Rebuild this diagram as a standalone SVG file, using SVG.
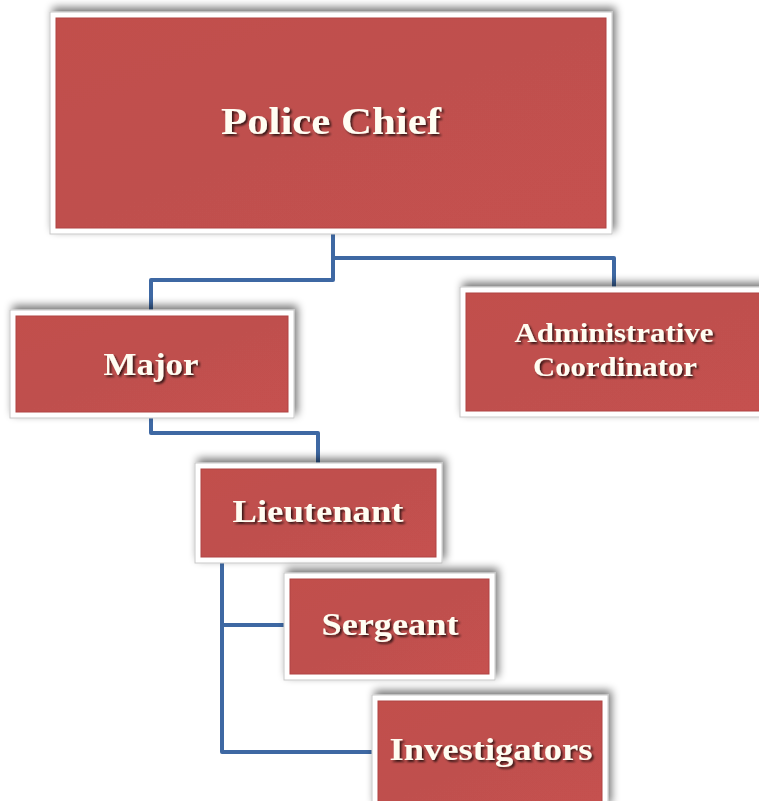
<svg xmlns="http://www.w3.org/2000/svg" width="759" height="801" viewBox="0 0 759 801">
  <defs>
    <filter id="shadow" x="-10%" y="-20%" width="120%" height="140%">
      <feGaussianBlur in="SourceAlpha" stdDeviation="4"/>
      <feOffset dx="3" dy="-4" result="b"/>
      <feComponentTransfer><feFuncA type="linear" slope="0.55"/></feComponentTransfer>
      <feMerge><feMergeNode/><feMergeNode in="SourceGraphic"/></feMerge>
    </filter>
    <filter id="txtShadow" x="-10%" y="-30%" width="120%" height="160%">
      <feGaussianBlur in="SourceAlpha" stdDeviation="1"/>
      <feOffset dx="1.5" dy="2" result="b"/>
      <feComponentTransfer><feFuncA type="linear" slope="0.7"/></feComponentTransfer>
      <feMerge><feMergeNode/><feMergeNode in="SourceGraphic"/></feMerge>
    </filter>
    <linearGradient id="redFill" x1="0" y1="0" x2="1" y2="1">
      <stop offset="0" stop-color="#C24F4C"/>
      <stop offset="0.5" stop-color="#BF504E"/>
      <stop offset="1" stop-color="#C6514F"/>
    </linearGradient>
  </defs>
  <style>
    .frame { fill: #FFFFFF; stroke: #C8C8C8; stroke-width: 1; }
    .face { fill: url(#redFill); stroke: #B04542; stroke-width: 1; }
    .label { font-family: "Liberation Serif", "DejaVu Serif", serif; font-weight: bold; fill: #FFFDF2; text-anchor: middle; }
    .link { fill: none; stroke: #3E68A3; stroke-width: 4; stroke-linejoin: round; }
  </style>
  <rect width="759" height="801" fill="#FFFFFF"/>

  <g id="connectors">
    <polyline class="link" points="333,234 333,258 614,258 614,289"/>
    <polyline class="link" points="333,258 333,280 151,280 151,310"/>
    <polyline class="link" points="151,418 151,433 318,433 318,463"/>
    <polyline class="link" points="222,563 222,752 372,752"/>
    <polyline class="link" points="222,625 284,625"/>
  </g>

  <g id="police-chief" filter="url(#shadow)">
    <rect class="frame" x="50" y="12" width="562" height="222"/>
    <rect class="face" x="56" y="18" width="550" height="210"/>
    <text class="label" x="331" y="134" font-size="37" textLength="220" lengthAdjust="spacingAndGlyphs" filter="url(#txtShadow)">Police Chief</text>
  </g>

  <g id="major" filter="url(#shadow)">
    <rect class="frame" x="10" y="310" width="284" height="108"/>
    <rect class="face" x="16" y="316" width="272" height="96"/>
    <text class="label" x="151" y="375" font-size="31" textLength="95" lengthAdjust="spacingAndGlyphs" filter="url(#txtShadow)">Major</text>
  </g>

  <g id="administrative-coordinator" filter="url(#shadow)">
    <rect class="frame" x="460" y="287" width="305" height="130"/>
    <rect class="face" x="466" y="293" width="299" height="118"/>
    <text class="label" x="614" y="342" font-size="27" textLength="199" lengthAdjust="spacingAndGlyphs" filter="url(#txtShadow)">Administrative</text>
    <text class="label" x="615" y="376" font-size="27" textLength="164" lengthAdjust="spacingAndGlyphs" filter="url(#txtShadow)">Coordinator</text>
  </g>

  <g id="lieutenant" filter="url(#shadow)">
    <rect class="frame" x="195" y="463" width="247" height="100"/>
    <rect class="face" x="201" y="469" width="235" height="88"/>
    <text class="label" x="318" y="522" font-size="31" textLength="171" lengthAdjust="spacingAndGlyphs" filter="url(#txtShadow)">Lieutenant</text>
  </g>

  <g id="sergeant" filter="url(#shadow)">
    <rect class="frame" x="284" y="573" width="211" height="107"/>
    <rect class="face" x="290" y="579" width="199" height="95"/>
    <text class="label" x="390" y="635" font-size="31" textLength="137" lengthAdjust="spacingAndGlyphs" filter="url(#txtShadow)">Sergeant</text>
  </g>

  <g id="investigators" filter="url(#shadow)">
    <rect class="frame" x="372" y="695" width="236" height="112"/>
    <rect class="face" x="378" y="701" width="224" height="106"/>
    <text class="label" x="491" y="760" font-size="31" textLength="203" lengthAdjust="spacingAndGlyphs" filter="url(#txtShadow)">Investigators</text>
  </g>
</svg>
